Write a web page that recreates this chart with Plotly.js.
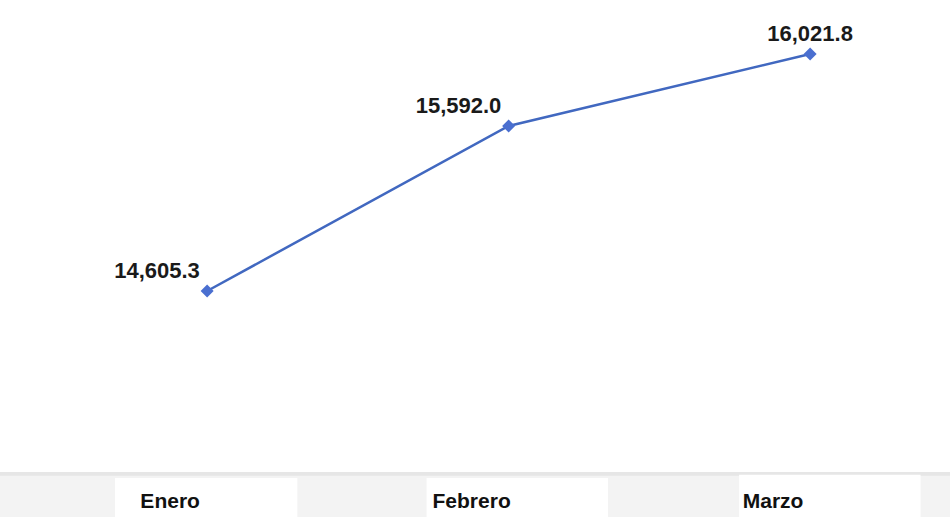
<!DOCTYPE html>
<html>
<head>
<meta charset="utf-8">
<script src="https://cdn.plot.ly/plotly-3.0.1.min.js"></script>
<style>html,body{margin:0;padding:0;background:#fff;}#chart{width:950px;height:517px;}</style>
</head>
<body>
<div id="chart"></div>
<script>
const months = ["Enero", "Febrero", "Marzo"];
const values = [14605.3, 15592.0, 16021.8];
const labels = ["14,605.3", "15,592.0", "16,021.8"];

const trace = {
  type: "scatter",
  mode: "lines+markers+text",
  x: months,
  y: values,
  text: labels,
  textposition: ["top left", "top left", "top center"],
  textfont: {family: "Liberation Sans, Arial, sans-serif", size: 22, color: "#1a1a1a", weight: "bold"},
  line: {color: "#4168c0", width: 2.5},
  marker: {symbol: "diamond", size: 10, color: "#4a6fd0"},
  cliponaxis: false,
  hoverinfo: "skip"
};

const bandShapes = [
  {type: "rect", xref: "paper", yref: "paper", x0: 0, x1: 1, y0: -0.004, y1: -0.1, fillcolor: "#f3f3f3", line: {width: 0}, layer: "below"},
  {type: "rect", xref: "paper", yref: "paper", x0: 0, x1: 1, y0: -0.004, y1: -0.012, fillcolor: "#e6e6e6", line: {width: 0}, layer: "below"},
  {type: "rect", xref: "paper", yref: "paper", x0: 0.121, x1: 0.313, y0: -0.017, y1: -0.1, fillcolor: "#ffffff", line: {width: 0}, layer: "below"},
  {type: "rect", xref: "paper", yref: "paper", x0: 0.449, x1: 0.640, y0: -0.017, y1: -0.1, fillcolor: "#ffffff", line: {width: 0}, layer: "below"},
  {type: "rect", xref: "paper", yref: "paper", x0: 0.778, x1: 0.969, y0: -0.010, y1: -0.1, fillcolor: "#ffffff", line: {width: 0}, layer: "below"}
];

const layout = {
  width: 950,
  height: 517,
  margin: {l: 0, r: 0, t: 0, b: 47},
  paper_bgcolor: "#ffffff",
  plot_bgcolor: "#ffffff",
  showlegend: false,
  xaxis: {
    type: "category",
    range: [-0.687, 2.464],
    showgrid: false,
    zeroline: false,
    showline: false,
    ticks: "",
    ticklabelshift: -37,
    ticklabelstandoff: 16,
    tickfont: {family: "Liberation Sans, Arial, sans-serif", size: 21, color: "#111111", weight: "bold"}
  },
  yaxis: {
    range: [13535.3, 16344.6],
    visible: false,
    showgrid: false,
    zeroline: false
  },
  shapes: bandShapes
};

Plotly.newPlot("chart", [trace], layout, {displayModeBar: false, staticPlot: true});
</script>
</body>
</html>
